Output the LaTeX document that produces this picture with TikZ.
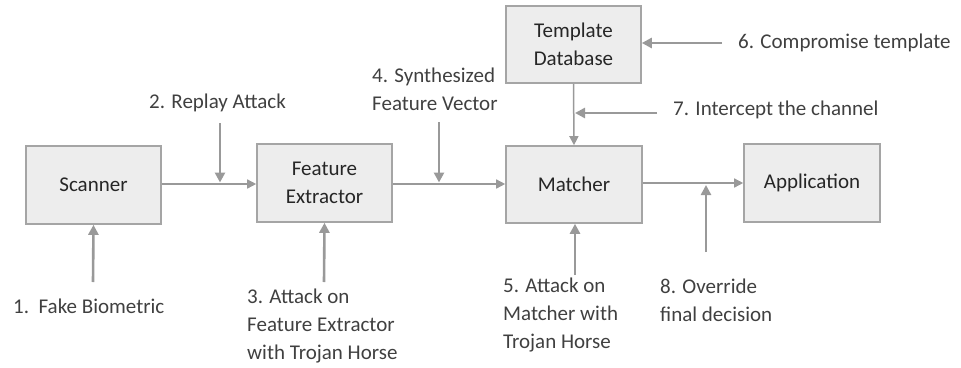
\documentclass[tikz,border=0pt]{standalone}
\usepackage{fontspec}
\setmainfont{Carlito}
\usetikzlibrary{arrows.meta}
\definecolor{boxfill}{HTML}{EDEDED}
\definecolor{boxline}{HTML}{A5A5A5}
\definecolor{arrowgray}{HTML}{999999}
\definecolor{boxtext}{HTML}{262626}
\definecolor{labeltext}{HTML}{404040}
\tikzset{
  block/.style={draw=boxline, line width=1.6pt, fill=boxfill,
    minimum width=135pt, minimum height=77pt, align=center,
    text=boxtext, font=\fontsize{21}{28}\selectfont, inner sep=0pt},
  flow/.style={draw=arrowgray, line width=1.5pt,
    -{Triangle[length=9pt,width=9pt]}},
  attack/.style={draw=arrowgray, line width=2.6pt,
    -{Triangle[length=10pt,width=10pt]}},
  note/.style={anchor=west, align=left, inner sep=0pt,
    text=labeltext, font=\fontsize{21}{28}\selectfont}
}
\begin{document}
\begin{tikzpicture}[x=1pt, y=-1pt]
\useasboundingbox (0,0) rectangle (961,367);

% processing stages
\node[block, minimum width=135pt, minimum height=78pt] (scanner) at (93.5,185) {Scanner};
\node[block, minimum width=135pt, minimum height=78pt] (fe) at (324.5,183) {Feature\\Extractor};
\node[block, minimum width=135pt, minimum height=77pt] (tdb) at (573.5,44.5) {Template\\Database};
\node[block, minimum width=136pt, minimum height=77pt] (matcher) at (574,184.5) {Matcher};
\node[block, minimum width=136pt, minimum height=78pt] (app) at (812,183) {Application};

% main data path
\draw[flow] (scanner.east |- 0,184) -- (fe.west |- 0,184);
\draw[flow] (fe.east |- 0,184) -- (matcher.west |- 0,184);
\draw[flow] (matcher.east |- 0,183) -- (app.west |- 0,183);
\draw[flow] (tdb.south) -- (matcher.north);

% attack points
\coordinate (s1) at (93,282);
\coordinate (s2) at (220,123);
\coordinate (e2) at (220,182.5);
\coordinate (s3) at (324,282);
\coordinate (s4) at (439,122);
\coordinate (e4) at (439,182.5);
\coordinate (s5) at (575,275);
\coordinate (s6) at (722,43);
\coordinate (s7) at (657,113);
\coordinate (e7) at (575,113);
\coordinate (s8) at (706,252);
\coordinate (e8) at (706,185);

\draw[attack] (s1) -- (scanner.south);
\draw[attack] (s2) -- (e2);
\draw[attack] (s3) -- (fe.south);
\draw[attack] (s4) -- (e4);
\draw[attack] (s5) -- (s5 |- matcher.south);
\draw[attack] (s6) -- (s6 -| tdb.east);
\draw[attack] (s7) -- (e7);
\draw[attack] (s8) -- (e8);

% attack labels
\node[note] (l1) at (13,306) {1.\ \ Fake Biometric};
\node[note] (l2) at (149,103) {2. Replay Attack};
\node[note] (l3) at (247,326) {3. Attack on\\Feature Extractor\\with Trojan Horse};
\node[note] (l4) at (372,89) {4. Synthesized\\Feature Vector};
\node[note] (l5) at (503,315) {5. Attack on\\Matcher with\\Trojan Horse};
\node[note] (l6) at (738,43) {6. Compromise template};
\node[note] (l7) at (673,110) {7. Intercept the channel};
\node[note] (l8) at (660,300) {8. Override\\final decision};
\end{tikzpicture}
\end{document}
